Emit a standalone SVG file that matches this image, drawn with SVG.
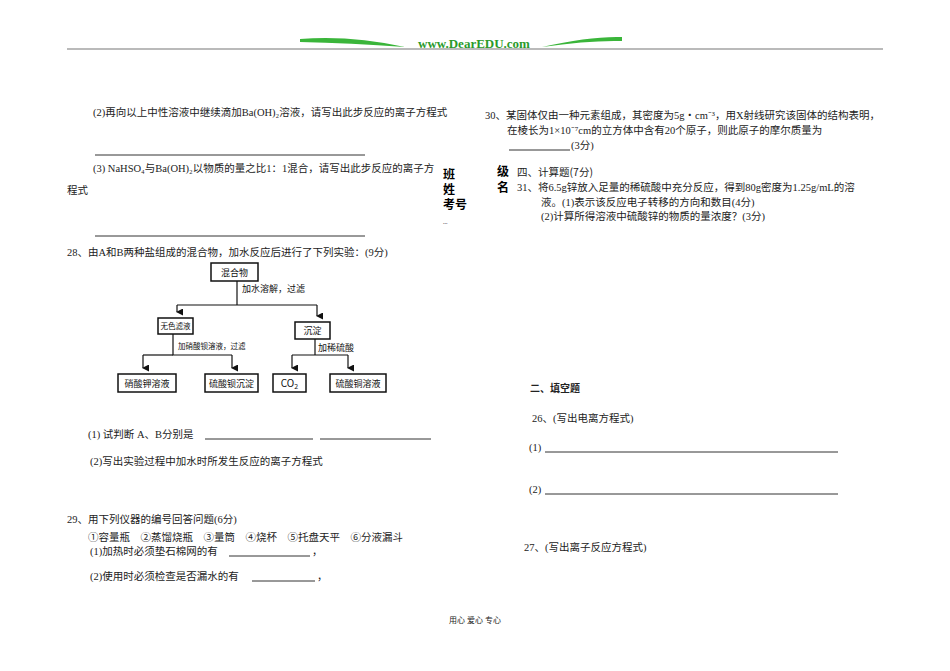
<svg xmlns="http://www.w3.org/2000/svg" width="950" height="671" viewBox="0 0 950 671">
<style>
text{font-family:"Liberation Serif","Noto Sans CJK SC",serif;font-size:10.5px;fill:#222}
.s{font-family:"Noto Sans CJK SC",sans-serif}
.b{font-family:"Noto Sans CJK SC",sans-serif;font-weight:bold;font-size:12px;fill:#000}
.ln{stroke:#333;stroke-width:1}
.box{fill:#fff;stroke:#111;stroke-width:1.5}
.c{stroke:#111;stroke-width:1.2;fill:none}
.fl{font-family:"Noto Sans CJK SC",sans-serif;font-size:9px;fill:#111}
</style>
<defs><marker id="a" markerWidth="7" markerHeight="7" refX="3.5" refY="6" orient="auto" markerUnits="userSpaceOnUse"><path d="M0,0 L7,0 L3.5,7 Z" fill="#111"/></marker></defs>
<rect width="950" height="671" fill="#fff"/>
<g id="header">
<line x1="67" y1="49" x2="883" y2="49" stroke="#777" stroke-width="1.2"/>
<path d="M300,39 Q350,35 405,47 Q350,43 300,42 Z" fill="#3ab53a"/>
<path d="M542,47 Q590,36 622,37 L622,41 Q590,40 542,47 Z" fill="#3ab53a"/>
<text x="474" y="48" text-anchor="middle" style="font-family:'Liberation Serif',serif;font-weight:bold;font-size:13px;fill:#2a9a2a">www.DearEDU.com</text>
</g>
<g id="left-text">
<text x="93" y="116">(2)再向以上中性溶液中继续滴加Ba(OH)₂溶液，请写出此步反应的离子方程式</text>
<line class="ln" x1="95" y1="155" x2="365" y2="155"/>
<text x="93" y="172">(3) NaHSO₄与Ba(OH)₂以物质的量之比1：1混合，请写出此步反应的离子方</text>
<text x="67" y="194">程式</text>
<line class="ln" x1="95" y1="236" x2="365" y2="236"/>
<text x="67" y="256">28、由A和B两种盐组成的混合物，加水反应后进行了下列实验：(9分)</text>
<text x="88" y="438">(1) 试判断 A、B分别是</text>
<line class="ln" x1="205" y1="439" x2="313" y2="439"/>
<line class="ln" x1="320" y1="439" x2="431" y2="439"/>
<text x="90" y="465">(2)写出实验过程中加水时所发生反应的离子方程式</text>
<text x="67" y="523">29、用下列仪器的编号回答问题(6分)</text>
<text x="88" y="541">①容量瓶　②蒸馏烧瓶　③量筒　④烧杯　⑤托盘天平　⑥分液漏斗</text>
<text x="90" y="555">(1)加热时必须垫石棉网的有</text>
<line class="ln" x1="229" y1="556" x2="310" y2="556"/>
<text x="312" y="555">，</text>
<text x="90" y="580">(2)使用时必须检查是否漏水的有</text>
<line class="ln" x1="252" y1="581" x2="315" y2="581"/>
<text x="317" y="580">，</text>
</g>
<g id="side-labels">
<text class="b" x="443" y="179">班</text>
<text class="b" x="443" y="194">姓</text>
<text class="b" x="443" y="209">考号</text>
<text x="443" y="224" style="font-size:6px">...</text>
<text class="b" x="497" y="176">级</text>
<text class="b" x="497" y="192">名</text>
</g>
<g id="right-text">
<text x="485" y="119">30、某固体仅由一种元素组成，其密度为5g・cm⁻³，用X射线研究该固体的结构表明，</text>
<text x="507" y="134">在棱长为1×10⁻⁷cm的立方体中含有20个原子，则此原子的摩尔质量为</text>
<line class="ln" x1="509" y1="150" x2="570" y2="150"/>
<text x="571" y="149">(3分)</text>
<text x="517" y="176" class="s" style="font-size:10.5px">四、计算题(7分)</text>
<text x="517" y="191">31、将6.5g锌放入足量的稀硫酸中充分反应，得到80g密度为1.25g/mL的溶</text>
<text x="541" y="206">液。(1)表示该反应电子转移的方向和数目(4分)</text>
<text x="541" y="220">(2)计算所得溶液中硫酸锌的物质的量浓度？(3分)</text>
<text x="530" y="392" class="s" style="font-weight:bold;font-size:10px">二、填空题</text>
<text x="532" y="422">26、(写出电离方程式)</text>
<text x="529" y="451">(1)</text>
<line class="ln" x1="545" y1="452" x2="838" y2="452"/>
<text x="529" y="493">(2)</text>
<line class="ln" x1="545" y1="494" x2="838" y2="494"/>
<text x="524" y="551">27、(写出离子反应方程式)</text>
<text x="475" y="623" text-anchor="middle" style="font-size:8px">用心 爱心 专心</text>
</g>
<g id="connectors">
<path class="c" d="M237,281 V305"/>
<path class="c" d="M177,305 H317"/>
<path class="c" d="M177,305 V312" marker-end="url(#a)"/>
<path class="c" d="M317,305 V316" marker-end="url(#a)"/>
<path class="c" d="M173,334 V355 H232"/>
<path class="c" d="M143,355 H173"/>
<path class="c" d="M143,355 V368" marker-end="url(#a)"/>
<path class="c" d="M232,355 V368" marker-end="url(#a)"/>
<path class="c" d="M315,338 V355"/>
<path class="c" d="M292,355 H348"/>
<path class="c" d="M292,355 V368" marker-end="url(#a)"/>
<path class="c" d="M348,355 V368" marker-end="url(#a)"/>
</g>
<g id="lbl">
<text class="fl" x="242" y="292">加水溶解，过滤</text>
<text class="fl" x="178" y="349" style="font-size:7.5px">加硝酸钡溶液，过滤</text>
<text class="fl" x="318" y="351">加稀硫酸</text>
</g>
<g id="n-mix"><rect class="box" x="211" y="263" width="47" height="18"/><text class="fl" x="234.5" y="275.5" text-anchor="middle">混合物</text></g>
<g id="n-filtrate"><rect class="box" x="158" y="318" width="35" height="16"/><text class="fl" x="175.5" y="329" text-anchor="middle" style="font-size:7.5px">无色滤液</text></g>
<g id="n-ppt"><rect class="box" x="295" y="322" width="35" height="17"/><text class="fl" x="312.5" y="334" text-anchor="middle">沉淀</text></g>
<g id="n-kno3"><rect class="box" x="118" y="374" width="58" height="18"/><text class="fl" x="147" y="386.5" text-anchor="middle">硝酸钾溶液</text></g>
<g id="n-baso4"><rect class="box" x="205" y="374" width="53" height="18"/><text class="fl" x="231.5" y="386.5" text-anchor="middle">硫酸钡沉淀</text></g>
<g id="n-co2"><rect class="box" x="273" y="374" width="33" height="18"/><text class="fl" x="289.5" y="387" text-anchor="middle" style="font-size:10px">CO<tspan font-size="7" dy="2">2</tspan></text></g>
<g id="n-cuso4"><rect class="box" x="330" y="374" width="56" height="18"/><text class="fl" x="358" y="386.5" text-anchor="middle">硫酸铜溶液</text></g>
</svg>
